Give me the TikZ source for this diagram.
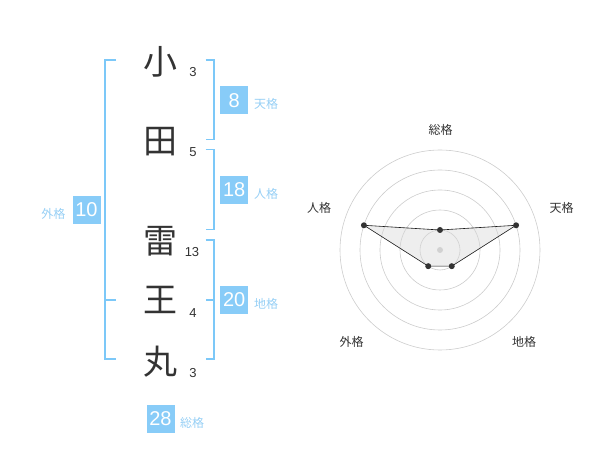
\documentclass[tikz,border=0pt]{standalone}
\usepackage{fontspec}
\usepackage{tikz}
\setmainfont{Liberation Sans}
\newfontfamily\jp{Noto Sans CJK JP}
\definecolor{kakusky}{HTML}{88CCF8}
\definecolor{kakuline}{HTML}{7CC8F8}
\definecolor{kakutxt}{HTML}{96CFF5}
\definecolor{inkgray}{HTML}{333333}

\begin{document}
\begin{tikzpicture}
[x=1pt,y=-1pt,
  kanji/.style={font=\jp\fontsize{34}{34}\selectfont,text=inkgray,inner sep=0pt},
  strokes/.style={font=\fontsize{13}{13}\selectfont,text=inkgray,inner sep=0pt},
  kakubox/.style={fill=kakusky,text=white,minimum size=28pt,inner sep=0pt,font=\fontsize{20}{20}\selectfont},
  kakuname/.style={font=\jp\fontsize{12}{12}\selectfont,text=kakutxt,inner sep=0pt},
  bracket/.style={draw=kakuline,line width=1.7pt},
  ring/.style={draw=black!20,line width=0.6pt},
  axisname/.style={font=\jp\fontsize{12}{12}\selectfont,text=inkgray,inner sep=0pt},
  dot/.style={circle,fill=inkgray,inner sep=0pt,minimum size=6pt}]
  \useasboundingbox (0,0) rectangle (600,470);

  % name
  \node[kanji] (ch1) at (160,62) {小};
  \node[kanji] (ch2) at (160,142) {田};
  \node[kanji] (ch3) at (160,241) {雷};
  \node[kanji] (ch4) at (160,300) {王};
  \node[kanji] (ch5) at (160,362) {丸};

  \node[strokes] (st1) at (193,72.5) {3};
  \node[strokes] (st2) at (193,152.5) {5};
  \node[strokes] (st3) at (192,252.5) {13};
  \node[strokes] (st4) at (193,313.5) {4};
  \node[strokes] (st5) at (193,373.5) {3};

  % brackets
  \coordinate (gai1) at (116,60);   \coordinate (gai2) at (105,60);
  \coordinate (gai3) at (105,359);  \coordinate (gai4) at (116,359);
  \coordinate (gai5) at (105,300);  \coordinate (gai6) at (116,300);
  \coordinate (ten1) at (205.5,60);  \coordinate (ten2) at (214,60);
  \coordinate (ten3) at (214,139.5); \coordinate (ten4) at (205.5,139.5);
  \coordinate (jin1) at (205.5,149.5); \coordinate (jin2) at (214,149.5);
  \coordinate (jin3) at (214,229.5);   \coordinate (jin4) at (205.5,229.5);
  \coordinate (chi1) at (205.5,240); \coordinate (chi2) at (214,240);
  \coordinate (chi3) at (214,359);   \coordinate (chi4) at (205.5,359);
  \coordinate (chi5) at (214,300);   \coordinate (chi6) at (205.5,300);

  \foreach \a/\b/\c/\d in {gai1/gai2/gai3/gai4, ten1/ten2/ten3/ten4,
      jin1/jin2/jin3/jin4, chi1/chi2/chi3/chi4}
    \draw[bracket] (\a) -- (\b) -- (\c) -- (\d);
  \foreach \from/\to in {gai5/gai6, chi5/chi6}
    \draw[bracket] (\from) -- (\to);

  % scores
  \node[kakubox] (ten) at (234.2,100.2) {8};
  \node[kakubox] (jin) at (234.2,190) {18};
  \node[kakubox] (chi) at (234.2,300) {20};
  \node[kakubox] (gai) at (86.5,210) {10};
  \node[kakubox] (sou) at (160.5,419) {28};

  \node[kakuname,anchor=west] (tenname) at (254,104) {天格};
  \node[kakuname,anchor=west] (jinname) at (254,194) {人格};
  \node[kakuname,anchor=west] (chiname) at (254,304) {地格};
  \node[kakuname] (gainame) at (53.3,213.5) {外格};
  \node[kakuname] (souname) at (192,422.7) {総格};

  % radar
  \begin{scope}[shift={(440,250)}]
    \foreach \r in {20,40,60,80,100}
      \draw[ring] (0,0) circle (\r);
    \fill[black!20] (0,0) circle (3pt);
    \foreach \a/\r [count=\i] in {-90/20,-18/80,54/20,126/20,198/80}
      \coordinate (v\i) at (\a:\r);
    \draw[black!90,line width=0.6pt,fill=black!15,fill opacity=0.45]
      (v1) -- (v2) -- (v3) -- (v4) -- (v5) -- cycle;
    \foreach \i in {1,...,5}
      \node[dot] (p\i) at (v\i) {};
  \end{scope}

  \node[axisname] (ax1) at (440.7,130) {総格};
  \node[axisname] (ax2) at (561.7,208) {天格};
  \node[axisname] (ax3) at (524,341.7) {地格};
  \node[axisname] (ax4) at (351.7,341.7) {外格};
  \node[axisname] (ax5) at (319,208) {人格};

\end{tikzpicture}
\end{document}
